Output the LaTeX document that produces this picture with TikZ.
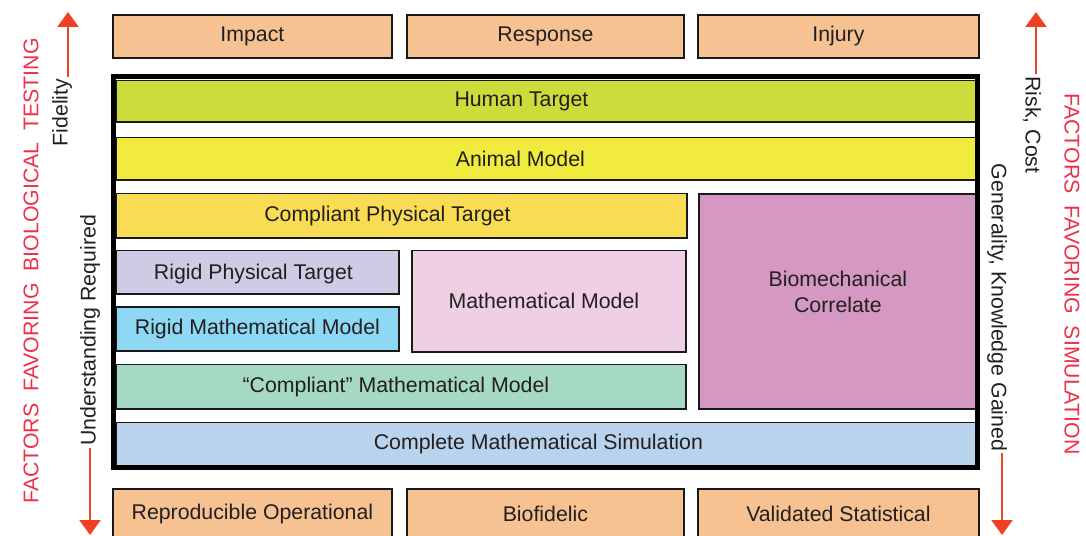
\documentclass[tikz,border=0pt]{standalone}
\usepackage{fontspec}
\setmainfont{Liberation Sans}
\usetikzlibrary{arrows.meta}
\usetikzlibrary{calc}
\usetikzlibrary{positioning}

\definecolor{txt}{HTML}{231F20}
\definecolor{peach}{HTML}{F7C291}
\definecolor{humanc}{HTML}{CCDC3A}
\definecolor{animalc}{HTML}{F1EB3D}
\definecolor{cphysc}{HTML}{F9DC53}
\definecolor{rphysc}{HTML}{CFCBE5}
\definecolor{rmathc}{HTML}{8ED8F6}
\definecolor{mmodelc}{HTML}{EFCFE3}
\definecolor{bioc}{HTML}{D498C3}
\definecolor{cmathc}{HTML}{A5D9C4}
\definecolor{simc}{HTML}{B8D3EB}
\definecolor{arrowred}{HTML}{EE4124}
\definecolor{redtxt}{HTML}{EE3048}

\tikzset{
  blk/.style={draw=black!90, line width=1.8pt, inner sep=0pt, anchor=north west},
  lab/.style={text=txt, font=\fontsize{21.3}{26}\selectfont},
  side/.style={text=txt, inner sep=2pt},
  factor/.style={text=redtxt, inner sep=0pt},
  redarrow/.style={draw=arrowred, line width=2.2pt, -{Triangle[length=15pt,width=21pt]}}
}

\begin{document}
\begin{tikzpicture}[x=1pt, y=-1pt, every node/.style={font=\fontsize{21.3}{26}\selectfont, text=txt}]
      \useasboundingbox (0,0) rectangle (1086,535);

      \node[blk, fill=peach, minimum width=279pt, minimum height=43pt] (impact) at (112,14) {Impact};
      \node[blk, fill=peach, minimum width=277pt, minimum height=43pt] (response) at (406,14) {Response};
      \node[blk, fill=peach, minimum width=281pt, minimum height=43pt] (injury) at (697,14) {Injury};

      \node[blk, fill=humanc, minimum width=861pt, minimum height=41.5pt,
        label={[lab, xshift=-25pt]center:Human Target}] (human) at (115,79.5) {};
      \node[blk, fill=animalc, minimum width=861pt, minimum height=42.5pt,
        label={[lab, xshift=-26pt]center:Animal Model}] (animal) at (115,136.5) {};
      \node[blk, fill=cphysc, minimum width=571pt, minimum height=44.5pt,
        label={[lab, xshift=-14pt]center:Compliant Physical Target}] (cphys) at (115,192.5) {};
      \node[blk, fill=bioc, minimum width=278pt, minimum height=215pt,
        label={[lab, align=center, yshift=10pt]center:Biomechanical\\Correlate}] (bio) at (698,193) {};
      \node[blk, fill=rphysc, minimum width=283pt, minimum height=43.5pt,
        label={[lab, xshift=-4pt, yshift=-2pt]center:Rigid Physical Target}] (rphys) at (115,249.5) {};
      \node[blk, fill=rmathc, minimum width=283pt, minimum height=44pt] (rmath) at (115,306) {Rigid Mathematical Model};
      \node[blk, fill=mmodelc, minimum width=274pt, minimum height=101.5pt,
        label={[lab, xshift=-5pt]center:Mathematical Model}] (mmodel) at (411,249.5) {};
      \node[blk, fill=cmathc, minimum width=570pt, minimum height=44.5pt,
        label={[lab, xshift=-5pt]center:``Compliant'' Mathematical Model}] (cmath) at (115,363.5) {};
      \node[blk, fill=simc, minimum width=861pt, minimum height=43.5pt,
        label={[lab, xshift=-8pt]center:Complete Mathematical Simulation}] (sim) at (115,421.5) {};

      \draw[line width=4.5pt] (113.5,76.5) rectangle (977.5,467.5);

      \node[blk, fill=peach, minimum width=279pt, minimum height=52pt,
        label={[lab, yshift=1pt]center:Reproducible Operational}] (repro) at (112,488) {};
      \node[blk, fill=peach, minimum width=277pt, minimum height=52pt,
        label={[lab, yshift=1pt]center:Biofidelic}] (biofid) at (406,488) {};
      \node[blk, fill=peach, minimum width=281pt, minimum height=52pt,
        label={[lab, yshift=1pt]center:Validated Statistical}] (valid) at (697,488) {};

      \node[factor, rotate=90] (biotest) at (31,271) {FACTORS~~FAVORING~~BIOLOGICAL~~TESTING};
      \node[factor, rotate=-90] (simfav) at (1072,274) {FACTORS~~FAVORING~~SIMULATION};

      \node[side, rotate=90] (fid) at (62,112.5) {Fidelity};
      \node[side, rotate=90] (und) at (90,330.5) {Understanding Required};
      \node[side, rotate=-90] (risk) at (1032,125) {Risk, Cost};
      \node[side, rotate=-90] (gen) at (997,307.5) {Generality, Knowledge Gained};

      \coordinate (fidtip) at (68,12);
      \coordinate (undtip) at (90,535);
      \coordinate (risktip) at (1036,12);
      \coordinate (gentip) at (1002,535);

      \draw[redarrow] (fidtip |- fid.east) -- (fidtip);
      \draw[redarrow] (undtip |- und.west) -- (undtip);
      \draw[redarrow] (risktip |- risk.west) -- (risktip);
      \draw[redarrow] (gentip |- gen.east) -- (gentip);

    \end{tikzpicture}
\end{document}
